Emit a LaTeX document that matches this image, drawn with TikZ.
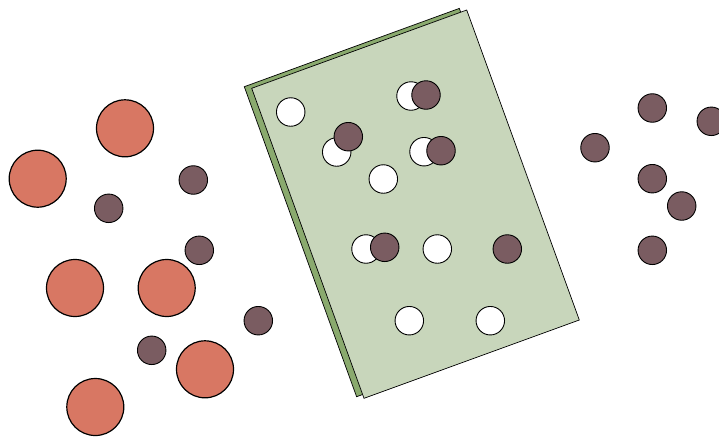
\documentclass[tikz,border=0pt]{standalone}
\definecolor{memback}{HTML}{8AAA6E}
\definecolor{memfront}{HTML}{C8D6BB}
\definecolor{bigred}{HTML}{D87763}
\definecolor{ion}{HTML}{7A5C61}
\tikzset{
  bigball/.style={circle,draw=black,line width=1.2pt,fill=bigred,minimum size=57pt,inner sep=0pt},
  smallball/.style={circle,draw=black,line width=0.9pt,fill=ion,minimum size=28.5pt,inner sep=0pt},
  hole/.style={circle,draw=black,line width=0.9pt,fill=white,minimum size=28.5pt,inner sep=0pt},
  memb/.style={draw=black,line width=0.7pt}
}
\begin{document}
\begin{tikzpicture}[x=1pt,y=-1pt]
\useasboundingbox (0,0) rectangle (719,437);
% membrane
\draw[memb,fill=memback] (244.3,86.7) -- (459.3,8.4) -- (571.9,318.4) -- (356.6,396.7) -- cycle;
\draw[memb,fill=memfront] (251.7,88.3) -- (466.7,10) -- (579.3,320) -- (364,398.3) -- cycle;
% pores
\node[hole] (w1) at (290.7,112) {};
\node[hole] (w2) at (336.7,152) {};
\node[hole] (w3) at (411,96) {};
\node[hole] (w4) at (424,151.7) {};
\node[hole] (w5) at (383.3,179) {};
\node[hole] (w6) at (366,249) {};
\node[hole] (w7) at (437.3,249) {};
\node[hole] (w8) at (409.3,320.7) {};
\node[hole] (w9) at (490.3,320.7) {};
% ions in membrane
\node[smallball] (m1) at (426,95) {};
\node[smallball] (m2) at (348.3,136.7) {};
\node[smallball] (m3) at (441,150.7) {};
\node[smallball] (m4) at (384.7,247.3) {};
\node[smallball] (m5) at (507.3,249) {};
% left side big particles
\node[bigball] (r1) at (125,128.3) {};
\node[bigball] (r2) at (37.7,178.7) {};
\node[bigball] (r3) at (75,288) {};
\node[bigball] (r4) at (166.7,288) {};
\node[bigball] (r5) at (205,369.3) {};
\node[bigball] (r6) at (95.3,407) {};
% left side small ions
\node[smallball] (l1) at (193.3,180) {};
\node[smallball] (l2) at (108.7,208.3) {};
\node[smallball] (l3) at (199.3,250.3) {};
\node[smallball] (l4) at (258.3,320.7) {};
\node[smallball] (l5) at (151.7,350.3) {};
% right side ions
\node[smallball] (q1) at (652.3,108) {};
\node[smallball] (q2) at (711.3,121.3) {};
\node[smallball] (q3) at (595,147.7) {};
\node[smallball] (q4) at (652.3,178.7) {};
\node[smallball] (q5) at (681.7,206) {};
\node[smallball] (q6) at (652.3,250.3) {};
\end{tikzpicture}
\end{document}
